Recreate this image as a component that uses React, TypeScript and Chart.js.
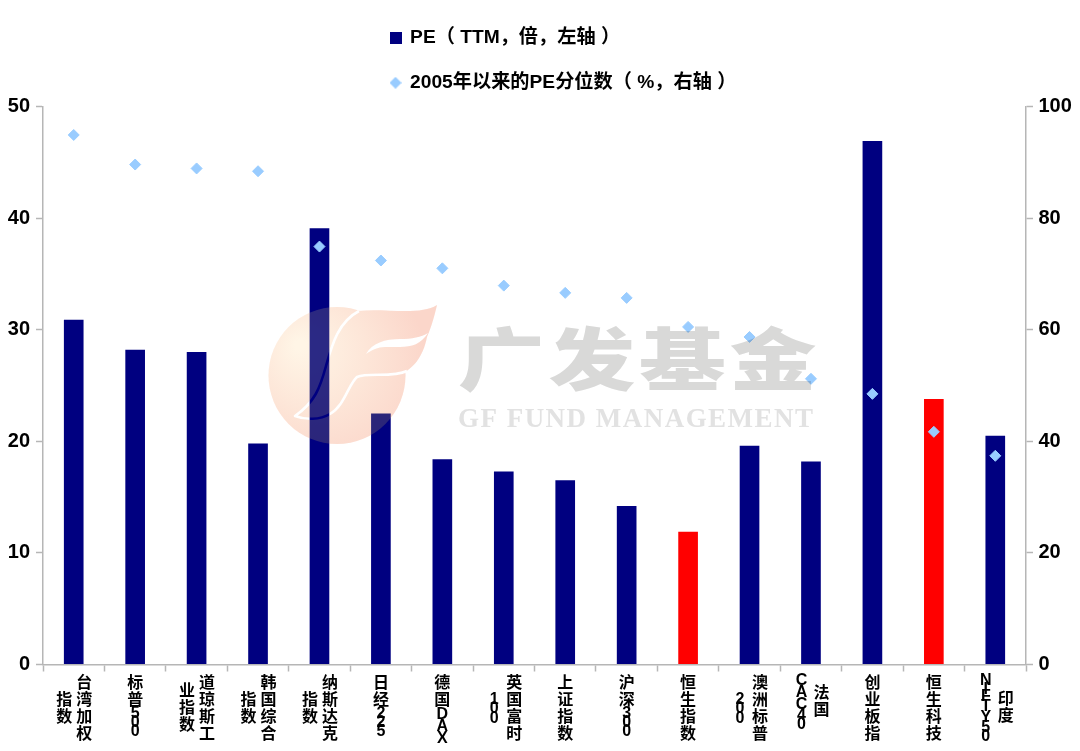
import React, { useEffect, useRef } from "react";
import { Chart, registerables } from "chart.js";

Chart.register(...registerables);

const categories = ["台湾加权指数", "标普500", "道琼斯工业指数", "韩国综合指数", "纳斯达克指数", "日经225", "德国DAX", "英国富时100", "上证指数", "沪深300", "恒生指数", "澳洲标普200", "法国CAC40", "创业板指", "恒生科技", "印度NIFTY50"];
const categoryColumns = [
  ["台湾加权", "指数"], ["标普500"], ["道琼斯工", "业指数"], ["韩国综合", "指数"],
  ["纳斯达克", "指数"], ["日经225"], ["德国DAX"], ["英国富时", "100"],
  ["上证指数"], ["沪深300"], ["恒生指数"], ["澳洲标普", "200"],
  ["法国", "CAC40"], ["创业板指"], ["恒生科技"], ["印度", "NIFTY50"],
];
const peValues = [30.9, 28.2, 28.0, 19.8, 39.1, 22.5, 18.4, 17.3, 16.5, 14.2, 11.9, 19.6, 18.2, 46.9, 23.8, 20.5];
const percentileValues = [94.9, 89.6, 88.9, 88.4, 74.9, 72.4, 71, 67.9, 66.6, 65.7, 60.5, 58.7, 51.2, 48.5, 41.7, 37.4];
const highlighted = ["恒生指数", "恒生科技"];
const peLabel = "PE（ TTM，倍，左轴 ）";
const percentileLabel = "2005年以来的PE分位数（ %，右轴 ）";

const FONT = '"Liberation Sans", "Noto Sans CJK SC", sans-serif';
const NAVY = "#000080";
const RED = "#ff0000";
const SKY = "#99ccff";
const AXIS = "#b6b6b6";

function markerCanvas(kind: "square" | "diamond", color: string) {
  const cv = document.createElement("canvas");
  cv.width = 12;
  cv.height = 12;
  const c = cv.getContext("2d")!;
  c.fillStyle = color;
  if (kind === "square") {
    c.fillRect(0, 0, 12, 12);
  } else {
    c.beginPath();
    c.moveTo(6, 0);
    c.lineTo(12, 6);
    c.lineTo(6, 12);
    c.lineTo(0, 6);
    c.closePath();
    c.fill();
  }
  return cv;
}

const legendPlacement = {
  id: "legendPlacement",
  afterLayout(chart: any) {
    const l = chart.legend;
    if (!l) return;
    const w = l.width, h = l.height;
    l.left = 364.5;
    l.top = 2;
    l.right = l.left + w;
    l.bottom = l.top + h;
  },
};

const stackedLabels = {
  id: "stackedLabels",
  afterDraw(chart: any) {
    const { ctx, scales } = chart;
    const x = scales.x;
    ctx.save();
    ctx.fillStyle = "#000";
    ctx.font = `bold 16px ${FONT}`;
    ctx.textAlign = "center";
    ctx.textBaseline = "middle";
    const adv = (c: string) => (/[\x00-\x7f]/.test(c) ? ctx.measureText(c).width + 0.3 : 17);
    const height = (s: string) => Array.from(s).reduce((a, c) => a + adv(c), 0);
    categoryColumns.forEach((cols, i) => {
      const cx = x.getPixelForTick(i);
      const maxH = Math.max(...cols.map(height));
      const top = 675;
      cols.forEach((col, k) => {
        const colX = cols.length === 1 ? cx : cx + (k === 0 ? 10.5 : -9.5);
        let y = top + (maxH - height(col)) / 2;
        for (const c of Array.from(col)) {
          const a = adv(c);
          ctx.fillText(c, colX, y + a / 2);
          y += a;
        }
      });
    });
    ctx.restore();
  },
};

function buildLogo() {
  const off = document.createElement("canvas");
  off.width = 1080;
  off.height = 751;
  const c = off.getContext("2d")!;
  const g = c.createRadialGradient(300, 345, 5, 322, 365, 105);
  g.addColorStop(0, "#fff5e6");
  g.addColorStop(0.5, "#fde6d8");
  g.addColorStop(1, "#fbd6ca");
  c.fillStyle = g;
  c.beginPath();
  c.arc(337, 375.5, 68.5, 0, Math.PI * 2);
  c.fill();
  c.beginPath();
  c.moveTo(358, 311);
  c.bezierCurveTo(385, 308, 420, 316, 437, 305);
  c.bezierCurveTo(433, 322, 430, 330, 427, 337);
  c.bezierCurveTo(423, 358, 412, 368, 405, 372);
  c.lineTo(360, 420);
  c.lineTo(330, 350);
  c.closePath();
  c.fill();
  // white F cut through the emblem
  c.globalCompositeOperation = "destination-out";
  c.fillStyle = "#000";
  c.beginPath();
  c.moveTo(366, 354);
  c.bezierCurveTo(372, 343, 385, 339, 400, 339);
  c.bezierCurveTo(412, 339, 421, 337, 428, 333);
  c.bezierCurveTo(421, 344, 412, 347, 400, 347);
  c.lineTo(385, 347);
  c.bezierCurveTo(378, 347, 372, 350, 366, 354);
  c.closePath();
  c.fill();
  c.strokeStyle = "#000";
  c.lineWidth = 2.6;
  c.lineJoin = "round";
  c.beginPath();
  c.moveTo(359, 311);
  c.bezierCurveTo(338, 322, 332, 345, 326, 366);
  c.bezierCurveTo(320, 388, 315, 402, 295, 416);
  c.bezierCurveTo(305, 420, 320, 420, 330, 414);
  c.bezierCurveTo(345, 405, 348, 385, 357, 377);
  c.bezierCurveTo(368, 372, 392, 378, 407, 371);
  c.stroke();
  return off;
}

function spacedText(ctx: any, text: string, left: number, right: number, y: number) {
  const plain = ctx.measureText(text).width;
  const n = text.length - 1;
  ctx.letterSpacing = `${(right - left - plain) / n}px`;
  ctx.fillText(text, left, y);
  ctx.letterSpacing = "0px";
}

const watermark = {
  id: "watermark",
  afterDatasetsDraw(chart: any) {
    const { ctx } = chart;
    const logo = buildLogo();
    ctx.save();
    ctx.globalCompositeOperation = "multiply";
    ctx.drawImage(logo, 0, 0, 1080, 751);
    ctx.globalCompositeOperation = "source-over";
    ctx.globalAlpha = 0.17;
    ctx.drawImage(logo, 0, 0, 1080, 751);
    ctx.globalAlpha = 1;
    ctx.globalCompositeOperation = "multiply";
    ctx.textAlign = "left";
    ctx.textBaseline = "alphabetic";
    ctx.fillStyle = "#d9d9d8";
    ctx.save();
    ctx.translate(458, 385);
    ctx.scale(1.24, 0.97);
    ctx.font = `900 70px "Noto Sans CJK SC", sans-serif`;
    ctx.letterSpacing = "3px";
    ctx.fillText("广发基金", 0, 0);
    ctx.letterSpacing = "0px";
    ctx.restore();
    ctx.fillStyle = "#e2e2e2";
    ctx.font = `bold 27px "Liberation Serif", serif`;
    spacedText(ctx, "GF FUND MANAGEMENT", 458, 813, 427);
    ctx.restore();
  },
};

export default function App() {
  const ref = useRef<HTMLCanvasElement | null>(null);
  useEffect(() => {
    const markers: Record<number, HTMLCanvasElement> = {
      0: markerCanvas("square", NAVY),
      1: markerCanvas("diamond", SKY),
    };
    const chart = new Chart(ref.current!, {
      type: "bar",
      data: {
        labels: categories,
        datasets: [
          {
            type: "bar",
            label: peLabel,
            data: peValues,
            yAxisID: "y",
            order: 2,
            backgroundColor: categories.map((c) => (highlighted.includes(c) ? RED : NAVY)),
            barPercentage: 0.32,
            categoryPercentage: 1,
          },
          {
            type: "line",
            label: percentileLabel,
            data: percentileValues,
            yAxisID: "y1",
            order: 1,
            showLine: false,
            pointStyle: "rectRot",
            pointRadius: 5.5,
            pointBackgroundColor: SKY,
            pointBorderColor: SKY,
            backgroundColor: SKY,
            borderColor: SKY,
          },
        ],
      } as any,
      options: {
        responsive: false,
        animation: false,
        devicePixelRatio: 1,
        layout: { padding: { top: 106.5, left: 0, right: 0, bottom: 0 } },
        plugins: {
          title: { display: false },
          tooltip: { enabled: false },
          legend: {
            position: "chartArea",
            align: "start",
            labels: {
              usePointStyle: true,
              pointStyleWidth: 10,
              boxHeight: 12,
              padding: 26,
              color: "#000",
              font: { family: FONT, size: 19.2, weight: "bold" },
              generateLabels(c: any) {
                const items = (Chart.defaults.plugins.legend.labels as any).generateLabels(c);
                items.sort((a: any, b: any) => a.datasetIndex - b.datasetIndex);
                items.forEach((it: any) => {
                  it.pointStyle = markers[it.datasetIndex];
                });
                return items;
              },
            },
          },
        },
        scales: {
          x: {
            grid: { display: true, drawOnChartArea: false, drawTicks: true, tickLength: 7, tickColor: AXIS, tickWidth: 1.5, offset: true },
            border: { color: AXIS, width: 1.5 },
            ticks: { display: false },
            afterFit(s: any) { s.height = 86.5; },
          },
          y: {
            position: "left",
            min: 0,
            max: 50,
            grid: { drawOnChartArea: false, drawTicks: true, tickLength: 7, tickColor: AXIS, tickWidth: 1.5 },
            border: { color: AXIS, width: 1.5 },
            ticks: { stepSize: 10, color: "#000", padding: 6, font: { family: FONT, size: 20, weight: "bold" } },
            afterFit(s: any) { s.width = 43; },
          },
          y1: {
            position: "right",
            min: 0,
            max: 100,
            grid: { drawOnChartArea: false, drawTicks: true, tickLength: 7, tickColor: AXIS, tickWidth: 1.5 },
            border: { color: AXIS, width: 1.5 },
            ticks: { stepSize: 20, color: "#000", padding: 5.5, font: { family: FONT, size: 20, weight: "bold" } },
            afterFit(s: any) { s.width = 54; },
          },
        },
      } as any,
      plugins: [legendPlacement, watermark, stackedLabels],
    });
    return () => chart.destroy();
  }, []);
  return (
    <div style={{ position: "absolute", left: 0, top: 0, width: 1080, height: 751, background: "#fff" }}>
      <canvas ref={ref} width={1080} height={751} style={{ display: "block" }} />
    </div>
  );
}
